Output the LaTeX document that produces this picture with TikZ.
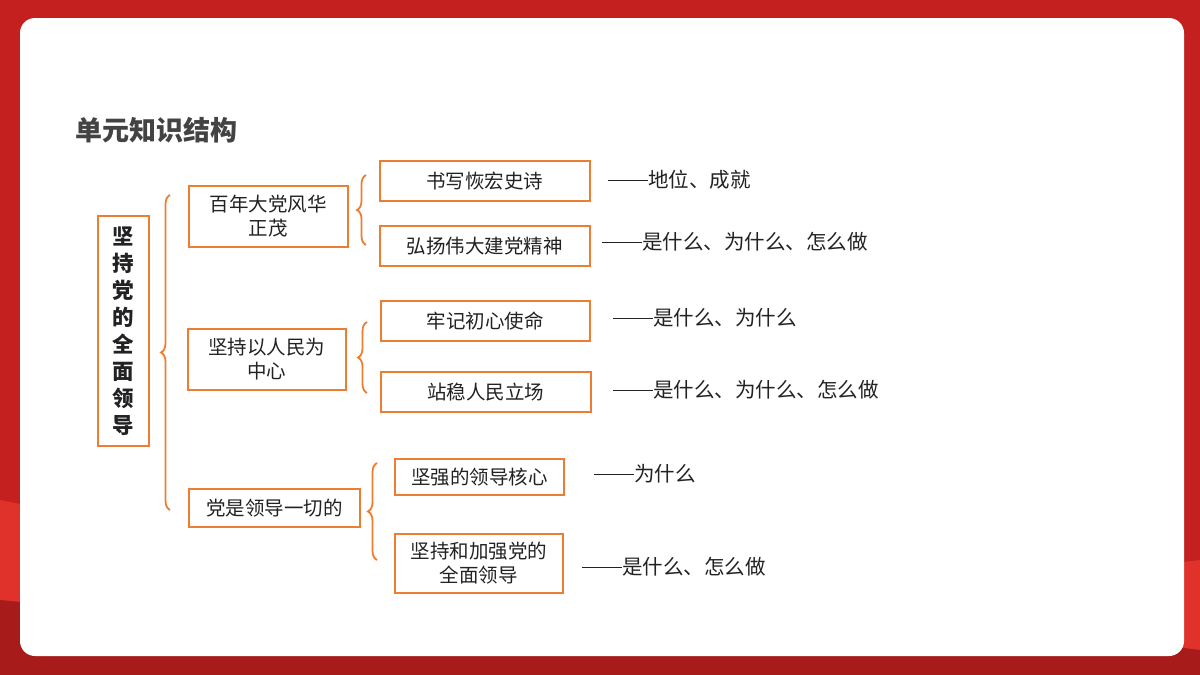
\documentclass[tikz,border=0pt]{standalone}
\usepackage{fontspec}
\setmainfont{Noto Sans CJK SC}
\usetikzlibrary{decorations.pathreplacing}
\definecolor{bgred}{HTML}{C42020}
\definecolor{lred}{HTML}{E0322A}
\definecolor{org}{HTML}{ED7D31}
\definecolor{txt}{HTML}{222222}
\newcommand{\dd}{\rule[0.33em]{40pt}{1pt}}
\begin{document}
\begin{tikzpicture}[x=1pt,y=-1pt,
 box/.style={draw=org,line width=1.8pt,fill=white,align=center,font=\fontsize{19.5}{24}\selectfont,text=txt,anchor=north west,inner sep=0pt},
 lab/.style={anchor=west,font=\fontsize{20.5}{24}\selectfont,text=txt,inner sep=0pt},
 br/.style={draw=org,line width=1.8pt,decorate,decoration={brace,amplitude=9pt}}]
\useasboundingbox (0,0) rectangle (1200,675);
\fill[bgred] (0,0) rectangle (1200,675);
\fill[lred] (0,500) .. controls (300,560) and (700,620) .. (1200,560) -- (1200,675) -- (0,675) -- cycle;
\fill[bgred!85!black] (0,600) .. controls (400,640) and (800,600) .. (1200,650) -- (1200,675) -- (0,675) -- cycle;
\fill[white,rounded corners=15pt] (20,18) rectangle (1184,656);
\node[anchor=west,font=\fontsize{27}{30}\selectfont\bfseries,text=txt!85,inner sep=0pt] (t) at (75,130) {单元知识结构};
\node[box,minimum width=51pt,minimum height=230pt,font=\fontsize{21.5}{27}\selectfont\bfseries] (m) at (97,215) {坚\\持\\党\\的\\全\\面\\领\\导};
\node[box,minimum width=159pt,minimum height=61pt] (a) at (188,185) {百年大党风华\\正茂};
\node[box,minimum width=158pt,minimum height=61pt] (b) at (187,328) {坚持以人民为\\中心};
\node[box,minimum width=171pt,minimum height=38pt] (c) at (188,488) {党是领导一切的};
\node[box,minimum width=210pt,minimum height=40pt] (a1) at (379,160) {书写恢宏史诗};
\node[box,minimum width=210pt,minimum height=40pt] (a2) at (379,225) {弘扬伟大建党精神};
\node[box,minimum width=209pt,minimum height=40pt] (b1) at (380,300) {牢记初心使命};
\node[box,minimum width=210pt,minimum height=40pt] (b2) at (380,371) {站稳人民立场};
\node[box,minimum width=169pt,minimum height=36pt] (c1) at (394,458) {坚强的领导核心};
\node[box,minimum width=168pt,minimum height=59pt] (c2) at (394,533) {坚持和加强党的\\全面领导};
\node[lab] (l1) at (608,180) {\dd 地位、成就};
\node[lab] (l2) at (602,242) {\dd 是什么、为什么、怎么做};
\node[lab] (l3) at (613,318) {\dd 是什么、为什么};
\node[lab] (l4) at (613,390) {\dd 是什么、为什么、怎么做};
\node[lab] (l5) at (594,474) {\dd 为什么};
\node[lab] (l6) at (582,567) {\dd 是什么、怎么做};
\draw[br] (170,510) -- (170,195);
\draw[br] (366,245) -- (366,175);
\draw[br] (367,393) -- (367,322);
\draw[br] (377,560) -- (377,463);
\end{tikzpicture}
\end{document}
